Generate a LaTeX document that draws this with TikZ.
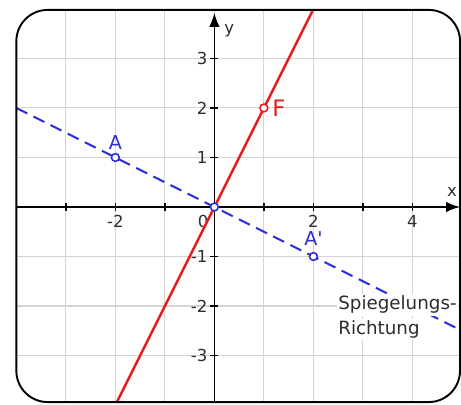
\documentclass[tikz,border=0pt]{standalone}
\usepackage{fontspec}
\setmainfont{DejaVu Sans}
\newfontfamily\plainsans{DejaVu Sans}
\usetikzlibrary{arrows.meta,positioning}
\definecolor{lineRed}{RGB}{228,28,28}
\definecolor{lineBlue}{RGB}{45,45,215}
\definecolor{gridGray}{RGB}{212,212,212}
\definecolor{txtGray}{RGB}{45,45,45}

\begin{document}
\begin{tikzpicture}[
    frame/.style={draw=black, line width=1.1pt, rounded corners=18pt},
    gridline/.style={draw=gridGray, line width=0.6pt},
    axis/.style={-{Latex[length=8pt,width=6pt]}, line width=0.85pt},
    tick/.style={line width=0.85pt},
    num/.style={font=\fontsize{9.5}{11}\selectfont, text=txtGray, inner sep=1pt},
    axlbl/.style={font=\fontsize{9.5}{11}\selectfont, text=txtGray, inner sep=1pt},
    pt/.style={circle, draw, fill=white, line width=0.9pt, minimum size=4.5pt, inner sep=0pt},
    ptlbl/.style={font=\plainsans\fontsize{11}{12}\selectfont, inner sep=1.5pt},
    note/.style={font=\fontsize{10.5}{13}\selectfont, text=txtGray, fill=white, inner sep=1pt},
  ]
    \useasboundingbox (-4.33,-3.98) rectangle (4.98,4.18);

    \begin{scope}
      \clip[rounded corners=18pt] (-4,-3.94) rectangle (4.96,3.98);

      % Grid
      \draw[gridline] (-5,-5) grid (5,5);

      % Axes with ticks
      \draw[axis] (-4,0) -- (4.96,0);
      \draw[axis] (0,-3.94) -- (0,3.92);
      \foreach \x in {-3,...,4} {
        \ifnum\x=0\else \draw[tick] (\x,-0.08) -- (\x,0.08); \fi
      }
      \foreach \y in {-3,...,3} {
        \ifnum\y=0\else \draw[tick] (-0.08,\y) -- (0.08,\y); \fi
      }

      % Tick labels
      \foreach \x in {-2,2,4} {
        \node[num] (xl\x) at (\x,-0.3) {\x};
      }
      \node[num] (xl0) at (-0.23,-0.3) {0};
      \foreach \y in {-3,...,3} {
        \ifnum\y=0\else \node[num, anchor=east] (yl\y) at (-0.1,\y) {\y}; \fi
      }
      \node[axlbl] (xname) at (4.8,0.3) {x};
      \node[axlbl] (yname) at (0.3,3.56) {y};

      % Mirror direction (dashed) and the line F
      \draw[lineBlue, line width=1.15pt, dash pattern=on 7pt off 4pt] (-4,2) -- (5,-2.5);
      \draw[lineRed, line width=1.4pt] (-2,-4) -- (2,4);
    \end{scope}

    % Label of the mirror direction
    \node[note, anchor=base west] (dirA) at (2.46,-2.08) {Spiegelungs-};
    \node[note, anchor=base west] (dirB) at (2.46,-2.57) {Richtung};

    % Points
    \node[pt, draw=lineBlue] (O) at (0,0) {};
    \node[pt, draw=lineBlue] (A) at (-2,1) {};
    \node[pt, draw=lineBlue] (Ap) at (2,-1) {};
    \node[pt, draw=lineRed] (F) at (1,2) {};
    \node[ptlbl, text=lineBlue, above=0pt of A] (Alabel) {A};
    \node[ptlbl, text=lineBlue, above=2pt of Ap] (Aplabel) {A'};
    \node[ptlbl, text=lineRed, font=\plainsans\fontsize{13}{14}\selectfont, right=0.5pt of F] (Flabel) {F};

    % Frame
    \draw[frame] (-4,-3.94) rectangle (4.96,3.98);
  \end{tikzpicture}
\end{document}
